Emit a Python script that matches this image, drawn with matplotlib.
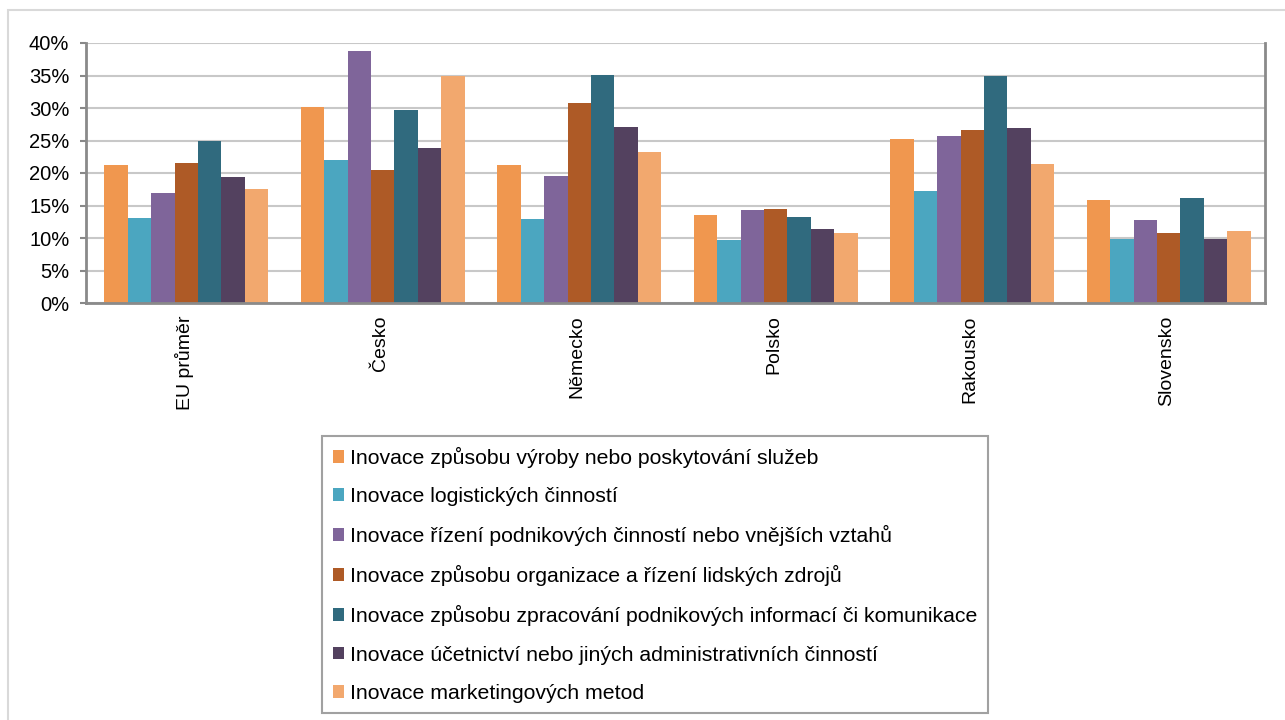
import numpy as np
import matplotlib.pyplot as plt
from matplotlib.patches import Rectangle
from matplotlib.ticker import PercentFormatter

countries = ['EU průměr', 'Česko', 'Německo', 'Polsko', 'Rakousko', 'Slovensko']
series = [
    'Inovace způsobu výroby nebo poskytování služeb',
    'Inovace logistických činností',
    'Inovace řízení podnikových činností nebo vnějších vztahů',
    'Inovace způsobu organizace a řízení lidských zdrojů',
    'Inovace způsobu zpracování podnikových informací či komunikace',
    'Inovace účetnictví nebo jiných administrativních činností',
    'Inovace marketingových metod',
]
vyroba = [21.2, 30.2, 21.2, 13.6, 25.3, 15.8]
logistika = [13.1, 22.0, 12.9, 9.7, 17.2, 9.8]
rizeni = [16.9, 38.7, 19.6, 14.3, 25.7, 12.7]
organizace = [21.5, 20.4, 30.8, 14.5, 26.6, 10.8]
informace = [25.0, 29.7, 35.1, 13.3, 34.9, 16.1]
ucetnictvi = [19.4, 23.8, 27.1, 11.4, 26.9, 9.9]
marketing = [17.6, 34.9, 23.2, 10.7, 21.4, 11.1]
values = [vyroba, logistika, rizeni, organizace, informace, ucetnictvi, marketing]
colors = ['#F0974F', '#4BA6C0', '#7F659A', '#AE5A26', '#306A7E', '#53415F', '#F2A86E']

plt.rcParams['font.family'] = ['Liberation Sans', 'DejaVu Sans']

fig = plt.figure(figsize=(12.85, 7.2), dpi=100)
ax = fig.add_axes([86/1285, 1 - 303/720, (1265-86)/1285, (303-43)/720])

# outer frame
fig.patches.append(Rectangle((8/1285, -0.01), 1.2, 1 - 10/720 + 0.01, transform=fig.transFigure,
                             fill=False, edgecolor='#D9D9D9', linewidth=1.5))

x = np.arange(len(countries))
w = 0.119
for i, (vals, c) in enumerate(zip(values, colors)):
    ax.bar(x + (i - 3) * w + 0.01, vals, width=w, color=c, label=series[i])

ax.set_xlim(-0.5, len(countries) - 0.5)
ax.set_ylim(0, 40)
ax.set_yticks(range(0, 41, 5))
ax.yaxis.set_major_formatter(PercentFormatter(decimals=0))
ax.set_xticks(x)
ax.set_xticklabels(countries, rotation=90, fontsize=14)
ax.tick_params(axis='y', labelsize=14.5, length=4, color='#888888', width=1.5, pad=8)
ax.tick_params(axis='x', length=0, pad=9)
ax.grid(axis='y', color='#C8C8C8', linewidth=1.5)
ax.set_axisbelow(True)
for s in ['left', 'bottom', 'right']:
    ax.spines[s].set_color('#8A8A8A')
    ax.spines[s].set_linewidth(2)
ax.spines['top'].set_visible(False)

leg = ax.legend(loc='upper left', bbox_to_anchor=((322-86)/1179, -(436-303)/260),
                frameon=True, fancybox=False, edgecolor='#8A8A8A',
                prop={'size': 15.3},
                handlelength=0.55, handleheight=0.55, handletextpad=0.25,
                labelspacing=0.9, borderpad=0.5, borderaxespad=0)
leg.get_frame().set_linewidth(1.5)

fig.savefig('out.png', dpi=100)
